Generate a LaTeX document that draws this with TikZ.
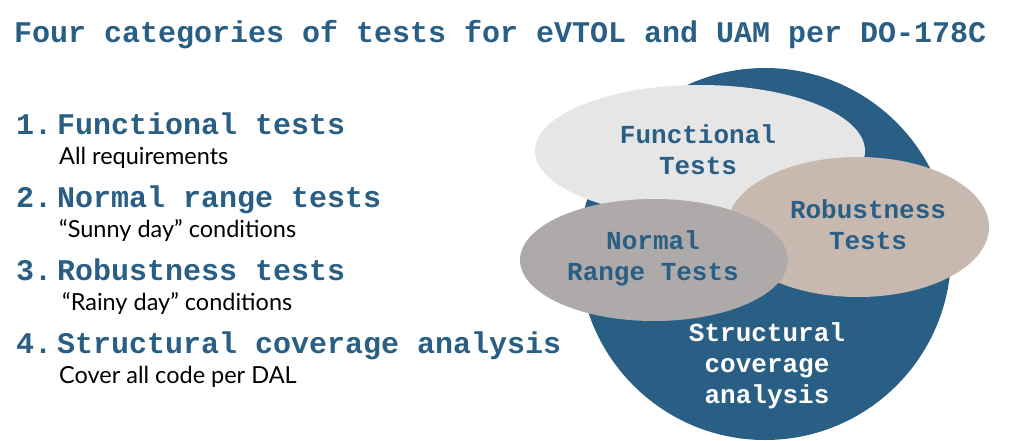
\documentclass[tikz,border=0pt]{standalone}
\usepackage{fontspec}
\setmainfont{Lato}
\newfontfamily\codefont{Liberation Mono Bold}
\definecolor{darkblue}{RGB}{42,95,133}
\definecolor{lightgrey}{RGB}{230,230,230}
\definecolor{mytan}{RGB}{200,185,176}
\definecolor{midgrey}{RGB}{174,170,170}
\usetikzlibrary{positioning}
\tikzset{
  headtxt/.style={font=\codefont\fontsize{30}{30}\selectfont,
                  text=darkblue, inner sep=0pt, anchor=base west},
  itemtxt/.style={font=\codefont\fontsize{30}{30}\selectfont,
                  text=darkblue, inner sep=0pt, anchor=base west},
  subtxt/.style={font=\fontsize{23.5}{23.5}\selectfont, inner sep=0pt, anchor=base west},
  ovaltxt/.style={font=\codefont\fontsize{26}{31}\selectfont,
                  text=darkblue, align=center, inner sep=0pt},
}

\begin{document}
\begin{tikzpicture}[x=1pt, y=-1pt]
  \useasboundingbox (0,0) rectangle (1024,441);

  % ── title ──────────────────────────────────────────────
  \node[headtxt] (title) at (14,43)
    {Four categories of tests for eVTOL and UAM per DO-178C};

  % ── numbered list ──────────────────────────────────────
  \foreach \k/\y/\head/\sub in {
      1/134/Functional tests/All requirements,
      2/207/Normal range tests/“Sunny day” conditions,
      3/280/Robustness tests/\hspace{3pt}“Rainy day” conditions,
      4/353/Structural coverage analysis/Cover all code per DAL} {
    \node[itemtxt] (num\k) at (16,\y) {\k.};
    \node[itemtxt] (item\k) at (57,\y) {\head};
    \node[subtxt] (sub\k) at (59,\y+30) {\sub};
  }

  % ── overlapping test sets ──────────────────────────────
  \fill[darkblue] (765,254) circle (186);
  \fill[lightgrey] (700,151) ellipse [x radius=165, y radius=66];
  \fill[mytan] (858,227) ellipse [x radius=131, y radius=70];
  \fill[midgrey] (654,260) ellipse [x radius=134, y radius=61];

  \node[ovaltxt] (functional) at (698,150) {Functional\\Tests};
  \node[ovaltxt] (robust) at (868,225) {Robustness\\Tests};
  \node[ovaltxt] (normal) at (653,258) {Normal\\Range Tests};
  \node[ovaltxt, text=white] (structural) at (767,366)
    {Structural\\coverage\\analysis};
\end{tikzpicture}
\end{document}
